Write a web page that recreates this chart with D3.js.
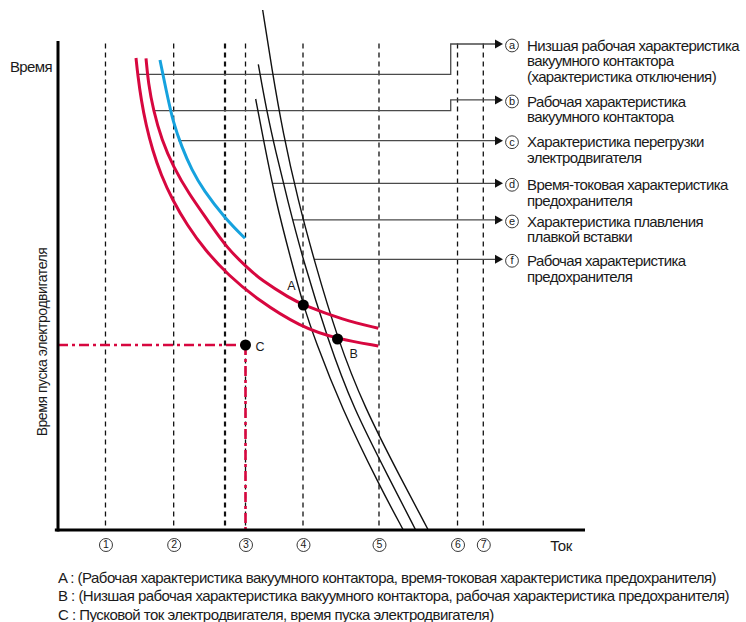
<!DOCTYPE html>
<html><head><meta charset="utf-8">
<script src="https://cdn.jsdelivr.net/npm/d3@7"></script>
<style>
body{margin:0;background:#fff}
svg{display:block}
text{font-family:"Liberation Sans",Arial,sans-serif;fill:#1a1a1a}
</style>
</head><body><svg id="c" width="746" height="622"></svg>
<script>
// ---- data (abstract units 0..100 on both axes) ----
const gridLabels = ["1","2","3","4","5","6","7"];
const gridX = [9.01, 21.95, 35.58, 46.49, 60.91, 75.81, 80.70];
const extraGridX = [31.69];

const redLower = [[14.80,96.52],[15.14,93.05],[15.79,87.94],[16.70,82.82],[17.93,77.71],[19.54,72.60],[21.73,67.49],[24.48,62.37],[27.89,57.26],[32.26,52.15],[37.95,47.04],[45.92,41.57],[53.04,39.06],[60.78,37.63]];
const redOperate = [[16.70,96.46],[17.13,91.41],[18.08,85.89],[19.68,79.76],[21.88,74.29],[24.86,68.71],[28.37,63.40],[32.07,57.61],[36.05,53.52],[38.52,51.13],[44.02,47.38],[46.55,46.01],[54.14,42.95],[60.78,41.25]];
const blueOverload = [[19.35,96.12],[20.63,89.37],[21.88,83.23],[23.47,78.38],[25.37,73.62],[27.57,69.53],[31.69,63.74],[35.48,59.65]];
const fuseTimeCurrent = [[37.51,88.14],[38.99,79.76],[41.27,67.49],[44.21,55.22],[46.55,46.01],[48.77,38.86],[53.70,25.21],[61.10,8.85],[65.52,0]];
const fuseMelting = [[38.01,95.24],[39.56,85.89],[41.37,77.10],[43.55,67.49],[46.49,55.22],[51.23,38.86],[55.88,25.21],[63.00,10.23],[67.87,0]];
const fuseOperate = [[38.84,106.34],[40.51,94.74],[42.69,81.13],[45.54,67.49],[48.58,55.22],[53.04,39.06],[58.06,25.21],[65.22,10.23],[70.26,0]];

const pointA = [46.55,46.01], pointB = [53.04,39.06], pointC = [35.58,37.83];

const legendKeys = ["a","b","c","d","e","f"];
const leaderStartX = [15.0, 18.41, 22.77, 40.7, 44.54, 48.58];
const leaderY = [93.19, 85.75, 79.61, 70.90, 63.40, 55.36];
const arrowY = [99.39, 87.94, 79.61, 70.90, 63.40, 55.36];
const stepX = 74.52, arrowX = 84.44;
const legendText = [
 ["Низшая рабочая характеристика","вакуумного контактора","(характеристика отключения)"],
 ["Рабочая характеристика","вакуумного контактора"],
 ["Характеристика перегрузки","электродвигателя"],
 ["Время-токовая характеристика","предохранителя"],
 ["Характеристика плавления","плавкой вставки"],
 ["Рабочая характеристика","предохранителя"]
];
const captions = [
 "A : (Рабочая характеристика вакуумного контактора, время-токовая характеристика предохранителя)",
 "B : (Низшая рабочая характеристика вакуумного контактора, рабочая характеристика предохранителя)",
 "C : Пусковой ток электродвигателя, время пуска электродвигателя)"
];

// ---- drawing ----
const RED = "#d7073f", BLUE = "#16a2de";
const svg = d3.select("#c");
const x = d3.scaleLinear().domain([0,100]).range([58,585]);
const y = d3.scaleLinear().domain([0,100]).range([530,41]);
const line = d3.line().x(d=>x(d[0])).y(d=>y(d[1])).curve(d3.curveBasis);

// grid dashed lines
const gridTop = 99.5;
svg.append("g").selectAll("line").data(gridX).join("line")
  .attr("x1",d=>x(d)).attr("x2",d=>x(d)).attr("y1",y(gridTop)).attr("y2",y(0))
  .attr("stroke","#111").attr("stroke-width",1.3).attr("stroke-dasharray","5,4");
svg.append("g").selectAll("line").data(extraGridX).join("line")
  .attr("x1",d=>x(d)).attr("x2",d=>x(d)).attr("y1",y(gridTop)).attr("y2",y(0))
  .attr("stroke","#111").attr("stroke-width",2.2).attr("stroke-dasharray","5,4");

// leaders + legend
const leaders = svg.append("g");
legendKeys.forEach((k,i)=>{
  const pts = [[leaderStartX[i],leaderY[i]]];
  if (arrowY[i] !== leaderY[i]) { pts.push([stepX,leaderY[i]],[stepX,arrowY[i]]); }
  pts.push([arrowX-1.4,arrowY[i]]);
  leaders.append("path").attr("d",d3.line().x(d=>x(d[0])).y(d=>y(d[1]))(pts))
    .attr("fill","none").attr("stroke","#4a4a4a").attr("stroke-width",1.3);
  const ax = x(arrowX), ay = y(arrowY[i]);
  leaders.append("path").attr("d",`M${ax},${ay}L${ax-8},${ay-4.5}L${ax-8},${ay+4.5}Z`).attr("fill","#111");
  const g = svg.append("g").attr("transform",`translate(${ax+9},${ay+1.5})`);
  g.append("circle").attr("r",6.4).attr("fill","none").attr("stroke","#222").attr("stroke-width",0.9);
  g.append("text").text(k).attr("text-anchor","middle").attr("dy","0.33em").attr("font-size",11);
  legendText[i].forEach((t,j)=>{
    g.append("text").text(t).attr("x",15).attr("y",j*15.6).attr("dy","0.35em").attr("font-size",15).attr("letter-spacing",-0.6);
  });
});

// black fuse curves
[fuseTimeCurrent,fuseMelting,fuseOperate].forEach(s=>{
  svg.append("path").attr("d",line(s)).attr("fill","none").attr("stroke","#111").attr("stroke-width",1.4);
});
// red & blue curves
svg.append("path").attr("d",line(redLower)).attr("fill","none").attr("stroke",RED).attr("stroke-width",3);
svg.append("path").attr("d",line(redOperate)).attr("fill","none").attr("stroke",RED).attr("stroke-width",3);
svg.append("path").attr("d",line(blueOverload)).attr("fill","none").attr("stroke",BLUE).attr("stroke-width",3);

// C lines
svg.append("line").attr("x1",x(0)).attr("x2",x(pointC[0])).attr("y1",y(pointC[1])).attr("y2",y(pointC[1]))
  .attr("stroke",RED).attr("stroke-width",2.6).attr("stroke-dasharray","10,4,3,4");
svg.append("line").attr("x1",x(pointC[0])).attr("x2",x(pointC[0])).attr("y1",y(pointC[1])).attr("y2",y(0))
  .attr("stroke",RED).attr("stroke-width",2.6).attr("stroke-dasharray","10,4,3,4");

// points
[[pointA,"A",-16,-19],[pointB,"B",12,15],[pointC,"C",10,2]].forEach(([p,l,dx,dy])=>{
  svg.append("circle").attr("cx",x(p[0])).attr("cy",y(p[1])).attr("r",5.5).attr("fill","#000");
  svg.append("text").text(l).attr("x",x(p[0])+dx).attr("y",y(p[1])+dy).attr("dy","0.35em").attr("font-size",12.5);
});

// axes
const xAxis = svg.append("g").attr("transform",`translate(0,${y(0)})`)
  .call(d3.axisBottom(x).tickValues(gridX).tickSize(0).tickPadding(11).tickFormat((d,i)=>gridLabels[i]));
xAxis.select(".domain").attr("stroke","#000").attr("stroke-width",3).attr("d",`M${x(-0.6)},0H${x(100)}`);
xAxis.selectAll(".tick text").attr("font-size",10.5).attr("font-family","Liberation Sans, Arial, sans-serif").attr("fill","#1a1a1a").attr("dy","0.71em");
xAxis.selectAll(".tick").append("circle").attr("cy",15).attr("r",6.5).attr("fill","none").attr("stroke","#222").attr("stroke-width",0.9);

const yAxis = svg.append("g").attr("transform",`translate(${x(0)},0)`)
  .call(d3.axisLeft(y).tickValues([]).tickSize(0));
yAxis.select(".domain").attr("stroke","#000").attr("stroke-width",3).attr("d",`M0,${y(100)}V${y(0)+1.5}`);

// axis titles
svg.append("text").text("Время").attr("x",31).attr("y",67).attr("dy","0.35em").attr("text-anchor","middle").attr("font-size",15).attr("letter-spacing",-0.6);
svg.append("text").text("Ток").attr("x",561).attr("y",546).attr("dy","0.35em").attr("text-anchor","middle").attr("font-size",15).attr("letter-spacing",-0.5);
svg.append("text").text("Время пуска электродвигателя").attr("transform","translate(42,342) rotate(-90)")
  .attr("text-anchor","middle").attr("dy","0.35em").attr("font-size",14).attr("letter-spacing",-0.45);

// captions
captions.forEach((c,i)=>{
  svg.append("text").text(c).attr("x",58).attr("y",577.5+i*18.5).attr("dy","0.35em").attr("font-size",15).attr("letter-spacing",-0.53);
});
</script></body></html>
